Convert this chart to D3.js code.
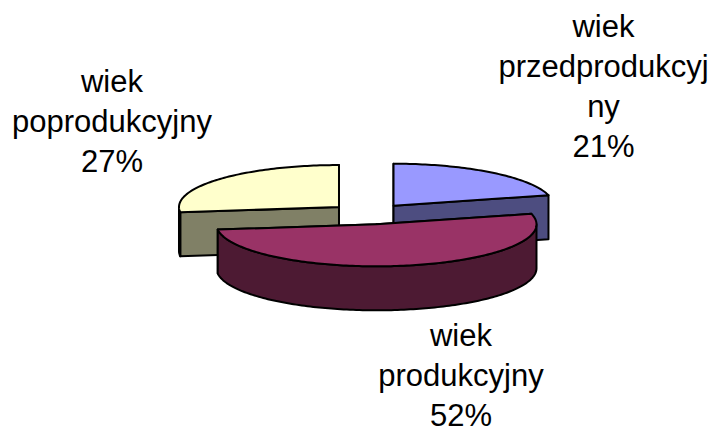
<!DOCTYPE html>
<html>
<head>
<meta charset="utf-8">
<script src="https://cdnjs.cloudflare.com/ajax/libs/d3/7.8.5/d3.min.js"></script>
<style>
  html, body { margin: 0; padding: 0; background: #fff; overflow: hidden; }
  svg { display: block; }
  text { font-family: "Liberation Sans", Arial, sans-serif; font-size: 31px; fill: #000; text-anchor: middle; }
</style>
</head>
<body>
<svg id="chart" width="711" height="428"></svg>
<script>
var categories = ['wiek przedprodukcyjny', 'wiek produkcyjny', 'wiek poprodukcyjny'];
var shares = [21, 52, 27];
var topColors = ['#9999ff', '#993366', '#ffffcc'];
var wallColors = ['#4d4d80', '#4d1a33', '#808066'];
var labelLines = [
  ['wiek', 'przedprodukcyj', 'ny', '21%'],
  ['wiek', 'produkcyjny', '52%'],
  ['wiek', 'poprodukcyjny', '27%']
];
var labelAnchors = [[603.5, 37], [461, 345.5], [112, 92]];

var cx = 369, cy = 214, rx = 160, ry = 42, depth = 44, explode = 40;
var lineHeight = 40;

var svg = d3.select('#chart');

var slices = d3.pie().sort(null)(shares);

// 3d look: angle 0 is the back of the pie, going clockwise
function point(slice, angle, drop) {
  var mid = (slice.startAngle + slice.endAngle) / 2;
  var ox = cx + explode * Math.sin(mid);
  var oy = cy - explode * (ry / rx) * Math.cos(mid);
  if (angle === null) return [ox, oy + drop];
  return [ox + rx * Math.sin(angle), oy - ry * Math.cos(angle) + drop];
}

function arcPoints(slice, a0, a1, drop) {
  var n = Math.max(2, Math.ceil((a1 - a0) / 0.02));
  return d3.range(n + 1).map(i => point(slice, a0 + (a1 - a0) * i / n, drop));
}

var line = d3.line();

function drawShape(pts, fill) {
  svg.append('path')
    .attr('d', line(pts) + 'Z')
    .attr('fill', fill)
    .attr('stroke', '#000')
    .attr('stroke-width', 2)
    .attr('stroke-linejoin', 'round');
}

function drawSlice(slice, i) {
  var a0 = slice.startAngle, a1 = slice.endAngle;

  // the two cut faces
  [a0, a1].forEach(a => {
    drawShape([point(slice, null, 0), point(slice, a, 0), point(slice, a, depth), point(slice, null, depth)], wallColors[i]);
  });

  // outer wall, front half only
  var f0 = Math.max(a0, Math.PI / 2), f1 = Math.min(a1, Math.PI * 1.5);
  if (f1 > f0) {
    drawShape(arcPoints(slice, f0, f1, 0).concat(arcPoints(slice, f0, f1, depth).reverse()), wallColors[i]);
  }

  drawShape([point(slice, null, 0)].concat(arcPoints(slice, a0, a1, 0)), topColors[i]);
}

// back slices first, the exploded front one on top
[2, 0, 1].forEach(i => drawSlice(slices[i], i));

labelLines.forEach((lines, i) => {
  var t = svg.append('text').attr('aria-label', categories[i]);
  lines.forEach((s, j) => {
    t.append('tspan')
      .attr('x', labelAnchors[i][0])
      .attr('y', labelAnchors[i][1] + j * lineHeight)
      .text(s);
  });
});
</script>
</body>
</html>
